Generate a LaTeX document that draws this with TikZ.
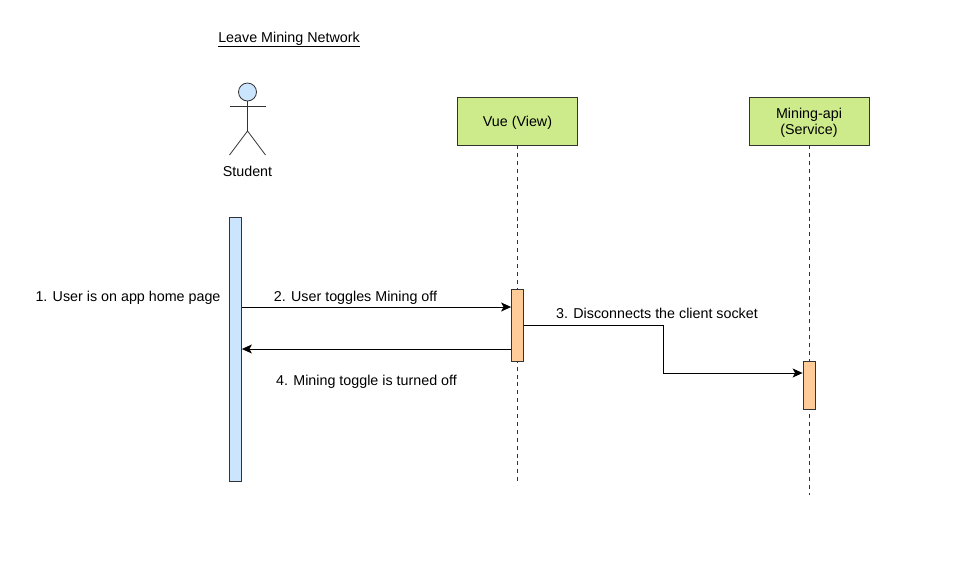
\documentclass[tikz,border=0pt]{standalone}
\usepackage{fontspec}
\setmainfont{Liberation Sans}
\usetikzlibrary{arrows.meta}
\definecolor{boxgreen}{HTML}{CDEB8B}
\definecolor{barblue}{HTML}{CCE5FF}
\definecolor{barorange}{HTML}{FFCC99}
\definecolor{inkgray}{HTML}{333333}
\newcommand{\topstrut}{\rule{0pt}{14.5pt}}
\begin{document}
\begin{tikzpicture}[x=1pt,y=-1pt,
  txt/.style={font=\fontsize{14.3pt}{16pt}\selectfont,inner sep=0pt,align=center,text=black,anchor=base},
  head/.style={draw=inkgray,line width=0.8pt,fill=boxgreen,minimum width=120pt,minimum height=48pt,inner sep=0pt,font=\fontsize{14.3pt}{16pt}\selectfont,align=center},
  bar/.style={draw=inkgray,line width=0.8pt,minimum width=12pt,inner sep=0pt},
  life/.style={draw=inkgray,line width=0.8pt,dash pattern=on 4pt off 3.9pt},
  msg/.style={draw=black,line width=0.9pt,-{Stealth[length=10pt,width=9pt,inset=2.5pt]}},
  stick/.style={draw=inkgray,line width=0.8pt}]
\useasboundingbox (0,0) rectangle (979,579);
\node[txt] (title) at (289,42) {\underline{Leave Mining Network}};
% actor
\node[circle,draw=inkgray,line width=0.8pt,fill=barblue,minimum size=18pt,inner sep=0pt] (heads) at (247.5,92) {};
\coordinate (hip) at (247.5,131);
\coordinate (armL) at (229.5,106.5);
\coordinate (armR) at (265.5,106.5);
\coordinate (footL) at (229.5,155);
\coordinate (footR) at (265.5,155);
\draw[stick] (heads.south) -- (hip);
\draw[stick] (armL) -- (armR);
\draw[stick] (footL) -- (hip) -- (footR);
\node[txt] (student) at (247.5,176) {Student};
% heads
\node[head] (vue) at (517.5,121) {\topstrut Vue (View)};
\node[head] (api) at (809,121) {\topstrut Mining-api\\(Service)};
% lifelines
\coordinate (vueEnd) at (517.5,481);
\coordinate (apiEnd) at (809,495);
\draw[life] (vue.south) -- (vueEnd);
\draw[life] (api.south) -- (apiEnd);
% bars
\node[bar,fill=barblue,minimum height=264pt] (sbar) at (235.5,349) {};
\node[bar,fill=barorange,minimum height=72pt] (vbar) at (517.5,325) {};
\node[bar,fill=barorange,minimum height=48pt] (abar) at (809,385) {};
% messages
\coordinate (m2a) at (sbar.east |- 0,307);
\coordinate (m2b) at (vbar.west |- 0,307);
\coordinate (m4a) at (vbar.west |- 0,349);
\coordinate (m4b) at (sbar.east |- 0,349);
\coordinate (m3a) at (vbar.east |- 0,325);
\coordinate (m3b) at (abar.west |- 0,373);
\draw[msg] (m2a) -- (m2b);
\draw[msg] (m4a) -- (m4b);
\draw[msg] (m3a) -- (663,325) -- (663,373) -- (m3b);
% labels
\node[txt] (l1) at (128,301) {1. User is on app home page};
\node[txt] (l2) at (355.5,301) {2. User toggles Mining off};
\node[txt] (l3) at (657,318) {3. Disconnects the client socket};
\node[txt] (l4) at (366.5,385) {4. Mining toggle is turned off};
\end{tikzpicture}
\end{document}
